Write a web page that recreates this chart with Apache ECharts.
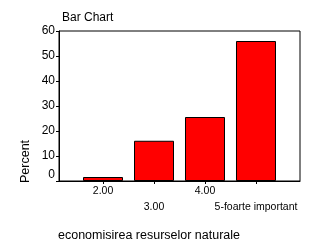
<!DOCTYPE html>
<html>
<head>
<meta charset="utf-8">
<script src="https://cdn.jsdelivr.net/npm/echarts@6/dist/echarts.min.js"></script>
<style>
html,body{margin:0;padding:0;background:#fff;}
#c{width:312px;height:249px;}
</style>
</head>
<body>
<div id="c"></div>
<script>
var categories = ['2.00', '3.00', '4.00', '5-foarte important'];
var percentValues = [1.6, 16.1, 25.6, 56.0];
var yTicks = [0, 10, 20, 30, 40, 50, 60];
var chartTitle = 'Bar Chart';
var xTitle = 'economisirea resurselor naturale';
var yTitle = 'Percent';

var positions = categories.map(function (c, i) { return i + 1; });
var upperRow = positions.filter(function (p, i) { return i % 2 === 0; });
var lowerRow = positions.filter(function (p, i) { return i % 2 === 1; });
var seriesData = percentValues.map(function (v, i) { return [positions[i], v]; });
var font = 'Arial, "Liberation Sans", sans-serif';
function catLabel(v) { return categories[Math.round(v) - 1]; }

var chart = echarts.init(document.getElementById('c'), null, {renderer: 'canvas'});
chart.setOption({
  animation: false,
  backgroundColor: '#fff',
  title: {
    text: chartTitle, left: 57, top: 7,
    textStyle: {fontFamily: font, fontSize: 12, fontWeight: 'normal', color: '#000'}
  },
  grid: {
    left: 59, top: 31, right: 12, bottom: 68,
    show: true, borderColor: '#000', borderWidth: 1, backgroundColor: 'transparent'
  },
  xAxis: [{
    type: 'value', min: 0.137, max: 4.863, position: 'bottom',
    splitLine: {show: false},
    axisLine: {show: true, onZero: false, lineStyle: {color: '#000', width: 1}},
    axisTick: {show: true, customValues: positions, length: 3, lineStyle: {color: '#000'}},
    axisLabel: {
      customValues: upperRow, margin: 5, showMinLabel: true, showMaxLabel: true,
      fontFamily: font, fontSize: 10.5, color: '#000',
      formatter: catLabel
    }
  }, {
    type: 'value', min: 0.137, max: 4.863, position: 'bottom',
    splitLine: {show: false},
    axisLine: {show: false, onZero: false},
    axisTick: {show: false},
    axisLabel: {
      customValues: lowerRow, margin: 21, showMinLabel: true, showMaxLabel: true,
      fontFamily: font, fontSize: 10.5, color: '#000',
      formatter: catLabel
    }
  }],
  yAxis: {
    type: 'value', min: yTicks[0], max: yTicks[yTicks.length - 1], interval: 10,
    splitLine: {show: false},
    axisLine: {show: true, lineStyle: {color: '#000', width: 1}},
    axisTick: {show: true, length: 3, lineStyle: {color: '#000'}},
    axisLabel: {
      margin: 4, fontFamily: font, fontSize: 12, color: '#000',
      formatter: function (v) { return v === 0 ? '{z|0}' : String(v); },
      rich: {z: {fontFamily: font, fontSize: 12, color: '#000', padding: [0, 0, 12, 0]}}
    }
  },
  graphic: [
    {
      type: 'text', left: 58, top: 229,
      style: {text: xTitle, font: '12.5px ' + font, fill: '#000'}
    },
    {
      type: 'text', x: 19, y: 183, rotation: Math.PI / 2,
      style: {text: yTitle, font: '12.5px ' + font, fill: '#000', align: 'left', verticalAlign: 'top'}
    }
  ],
  series: [{
    type: 'bar',
    xAxisIndex: 0,
    data: seriesData,
    barWidth: 40,
    itemStyle: {color: '#ff0000', borderColor: '#000', borderWidth: 1}
  }]
});
</script>
</body>
</html>
